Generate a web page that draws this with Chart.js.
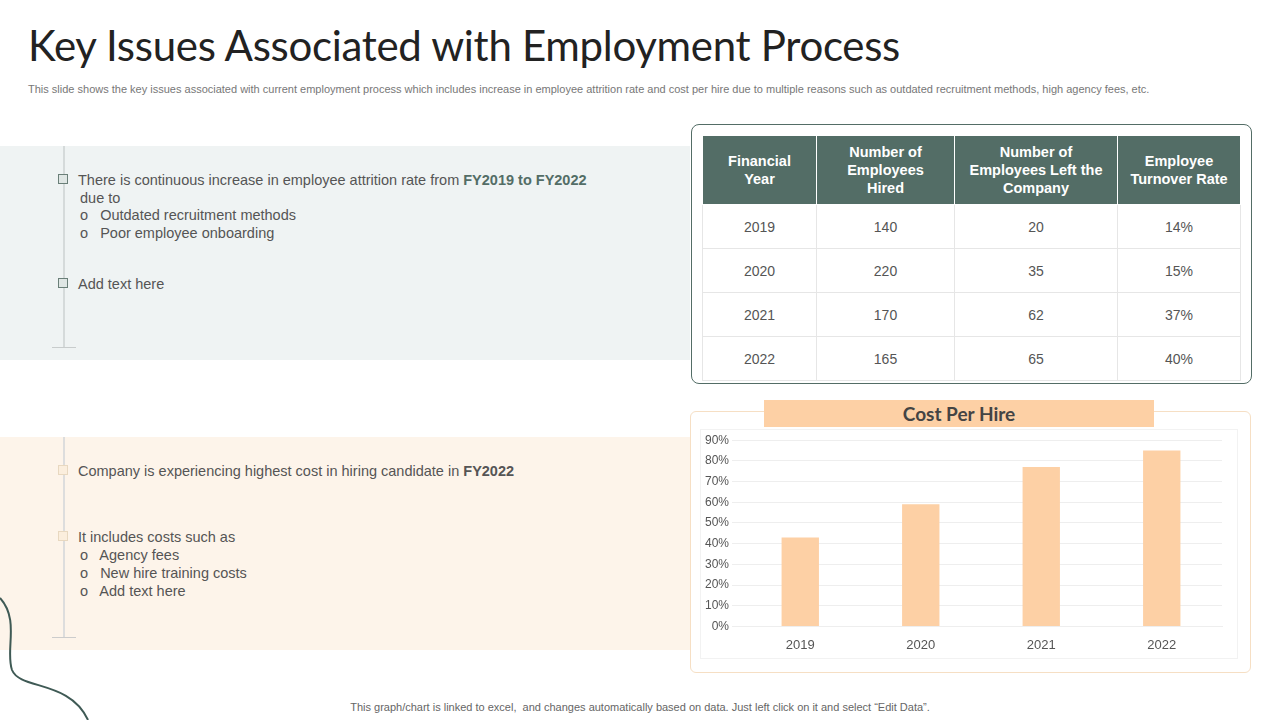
<!DOCTYPE html>
<html><head><meta charset="utf-8">
<script src="https://cdn.jsdelivr.net/npm/chart.js@4/dist/chart.umd.min.js"></script>
<style>
body{margin:0;width:1280px;height:720px;position:relative;overflow:hidden;font-family:"Liberation Sans",Arial,sans-serif;background:#fff;color:#555}
.abs{position:absolute}
h1{position:absolute;left:28px;top:20px;margin:0;font-family:Lato,"Open Sans",sans-serif;font-weight:400;font-size:42px;color:#222;letter-spacing:-0.3px}
.sub{left:28px;top:83px;font-size:11px;color:#777}
.p{font-size:14.5px;color:#555;line-height:18px}
.sq{display:inline-block;width:8px;height:8px;border:1px solid #6a7f78;background:#dfe6e4;margin-right:10px;vertical-align:1px}
.sq2{border-color:#e8d8c0;background:#fbeedd}
table{border-collapse:collapse;font-size:14px}
th{background:#536d66;color:#fff;font-weight:700;font-size:14.5px;line-height:18px;border:1px solid #fff;height:68px;padding:0}
td{text-align:center;height:41px;border:1px solid #e6e6e6;color:#555}
</style></head><body>
<h1>Key Issues Associated with Employment Process</h1>
<div class="abs sub">This slide shows the key issues associated with current employment process which includes increase in employee attrition rate and cost per hire due to multiple reasons such as outdated recruitment methods, high agency fees, etc.</div>
<div class="abs" style="left:0;top:146px;width:690px;height:214px;background:#eff3f3"></div>
<div class="abs" style="left:0;top:437px;width:690px;height:213px;background:#fdf4ea"></div>
<div class="abs" style="left:63px;top:146px;width:2px;height:202px;background:#d5dada"></div>
<div class="abs" style="left:52px;top:347px;width:24px;height:1px;background:#c8cccc"></div>
<div class="abs" style="left:63px;top:437px;width:2px;height:201px;background:#ddd"></div>
<div class="abs" style="left:52px;top:637px;width:24px;height:1px;background:#ccc"></div>
<div class="abs p" style="left:58px;top:171px"><span class="sq"></span>There is continuous increase in employee attrition rate from <b style="color:#536d66">FY2019 to FY2022</b><br><span style="margin-left:22px">due to</span></div>
<div class="abs p" style="left:80px;top:206px">o&nbsp;&nbsp; Outdated recruitment methods<br>o&nbsp;&nbsp; Poor employee onboarding</div>
<div class="abs p" style="left:58px;top:275px"><span class="sq"></span>Add text here</div>
<div class="abs p" style="left:58px;top:462px"><span class="sq sq2"></span>Company is experiencing highest cost in hiring candidate in <b>FY2022</b></div>
<div class="abs p" style="left:58px;top:528px"><span class="sq sq2"></span>It includes costs such as</div>
<div class="abs p" style="left:80px;top:546px">o&nbsp;&nbsp; Agency fees<br>o&nbsp;&nbsp; New hire training costs<br>o&nbsp;&nbsp; Add text here</div>
<div class="abs" style="left:691px;top:124px;width:559px;height:258px;border:1px solid #536d66;border-radius:8px"></div>
<table class="abs" style="left:702px;top:135px;width:539px">
<tr><th style="width:113px">Financial<br>Year</th><th style="width:137px">Number of<br>Employees<br>Hired</th><th style="width:162px">Number of<br>Employees Left the<br>Company</th><th>Employee<br>Turnover Rate</th></tr>
<tr><td>2019</td><td>140</td><td>20</td><td>14%</td></tr>
<tr><td>2020</td><td>220</td><td>35</td><td>15%</td></tr>
<tr><td>2021</td><td>170</td><td>62</td><td>37%</td></tr>
<tr><td>2022</td><td>165</td><td>65</td><td>40%</td></tr>
</table>
<div class="abs" style="left:690px;top:411px;width:559px;height:260px;border:1px solid #f6dfc4;border-radius:6px"></div>
<div class="abs" style="left:700px;top:429px;width:536px;height:228px;border:1px solid #f2f2f2"></div>
<div class="abs" style="left:764px;top:400px;width:390px;height:27px;background:#fdd0a5;text-align:center;font-family:Lato,sans-serif;font-weight:700;font-size:19px;line-height:27px;color:#444">Cost Per Hire</div>
<div class="abs" style="left:700px;top:430px;width:536px;height:228px"><canvas id="c"></canvas></div>
<div class="abs" style="left:0;top:701px;width:1280px;text-align:center;font-size:11px;color:#666">This graph/chart is linked to excel,&nbsp; and changes automatically based on data. Just left click on it and select “Edit Data”.</div>
<svg class="abs" style="left:0;top:590px" width="100" height="130"><path d="M0 8 C 20 30, 5 60, 12 80 C 20 100, 70 90, 88 130" fill="none" stroke="#3f5a55" stroke-width="2"/></svg>
<script>
const years=["2019","2020","2021","2022"];
const costPerHire=[43,59,77,85];
const yTicks=[0,10,20,30,40,50,60,70,80,90];
new Chart(document.getElementById('c'),{type:'bar',
data:{labels:years,datasets:[{data:costPerHire,backgroundColor:'#fdd0a5',barPercentage:0.31,categoryPercentage:1}]},
options:{responsive:true,maintainAspectRatio:false,animation:false,
layout:{padding:{top:6,right:14,bottom:2,left:2}},
plugins:{legend:{display:false},tooltip:{enabled:false}},
scales:{x:{grid:{display:false},border:{color:'#eee'},ticks:{color:'#555',font:{size:13,family:'Liberation Sans'}}},
y:{min:0,max:90,afterBuildTicks:a=>{a.ticks=yTicks.map(v=>({value:v}));},grid:{color:'#eeeeee'},border:{display:false},
ticks:{color:'#555',font:{size:12,family:'Liberation Sans'},callback:v=>v+'%'}}}}});
</script>
</body></html>
